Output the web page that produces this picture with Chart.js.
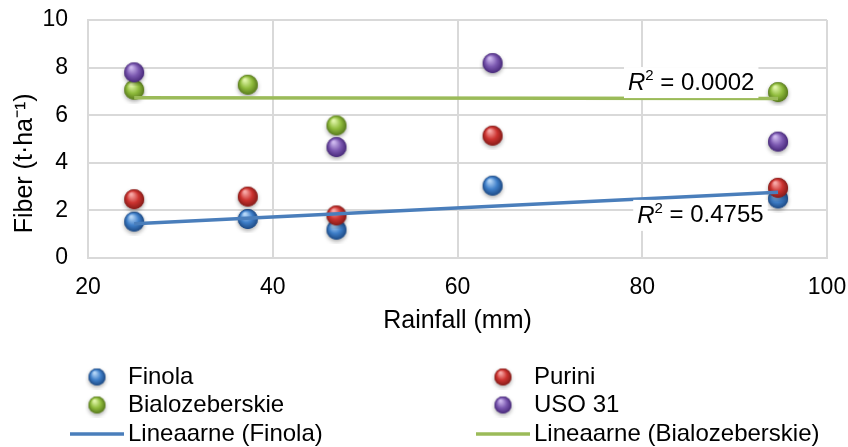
<!DOCTYPE html>
<html>
<head>
<meta charset="utf-8">
<script src="https://cdn.jsdelivr.net/npm/chart.js@4.4.1/dist/chart.umd.js"></script>
<style>
  html, body { margin: 0; padding: 0; background: #fff; }
  #wrap { width: 848px; height: 447px; position: relative; }
</style>
</head>
<body>
<div id="wrap"><canvas id="fiberChart" width="848" height="447"></canvas></div>
<script>
const rainfall = [25, 37.3, 46.9, 63.8, 94.7]
const finola = [1.53, 1.64, 1.19, 3.04, 2.5]
const purini = [2.47, 2.58, 1.79, 5.14, 2.95]
const bialozeberskie = [7.07, 7.28, 5.57, null, 6.97]
const uso31 = [7.8, null, 4.66, 8.19, 4.89]
const xTicks = [20, 40, 60, 80, 100]
const yTicks = [0, 2, 4, 6, 8, 10]
const seriesNames = ["Finola", "Purini", "Bialozeberskie", "USO 31"]
const trendNames = ["Lineaarne (Finola)", "Lineaarne (Bialozeberskie)"]
const rSquared = ["0.4755", "0.0002"]

const FONT = "'Liberation Sans', Arial, sans-serif"

function makeBall(base, light, dark, r) {
  const c = document.createElement("canvas")
  const size = 2 * r + 8
  c.width = size
  c.height = size
  const g = c.getContext("2d")
  const cx = size / 2
  const cy = size / 2
  g.save()
  g.shadowColor = "rgba(0,0,0,0.35)"
  g.shadowBlur = 4
  g.shadowOffsetY = 2
  g.beginPath()
  g.arc(cx, cy, r, 0, Math.PI * 2)
  g.fillStyle = dark
  g.fill()
  g.restore()
  const grad = g.createRadialGradient(cx - r * 0.3, cy - r * 0.5, r * 0.1, cx, cy, r)
  grad.addColorStop(0, light)
  grad.addColorStop(0.55, base)
  grad.addColorStop(1, dark)
  g.beginPath()
  g.arc(cx, cy, r, 0, Math.PI * 2)
  g.fillStyle = grad
  g.fill()
  return c
}

const ballColors = [
  ["#3f7fc9", "#b5d6f7", "#1d4a85"],
  ["#cc3330", "#f7a8a6", "#861b18"],
  ["#8fbb3c", "#e0f5a8", "#587a1c"],
  ["#7b58b0", "#cdb8ee", "#48297a"]
]
const bigBalls = ballColors.map((c) => makeBall(c[0], c[1], c[2], 10))
const smallBalls = ballColors.map((c) => makeBall(c[0], c[1], c[2], 8.5))
const trendColors = ["#4a7ebb", "#9bbb59"]

function toPoints(values) {
  return rainfall.map((x, i) => ({ x, y: values[i] }))
}

// least-squares trendline over the points that exist
function linearFit(values) {
  const pts = toPoints(values).filter((p) => p.y !== null)
  const n = pts.length
  const mx = pts.reduce((s, p) => s + p.x, 0) / n
  const my = pts.reduce((s, p) => s + p.y, 0) / n
  let sxy = 0
  let sxx = 0
  pts.forEach((p) => {
    sxy += (p.x - mx) * (p.y - my)
    sxx += (p.x - mx) * (p.x - mx)
  })
  const slope = sxy / sxx
  const xs = pts.map((p) => p.x)
  const x0 = Math.min(...xs)
  const x1 = Math.max(...xs)
  return [
    { x: x0, y: my + slope * (x0 - mx) },
    { x: x1, y: my + slope * (x1 - mx) }
  ]
}

const seriesValues = [finola, purini, bialozeberskie, uso31]

const scatterSets = seriesValues.map((values, i) => ({
  label: seriesNames[i],
  data: toPoints(values),
  pointStyle: bigBalls[i],
  pointRadius: 10,
  showLine: false,
  order: 10 - i
}))

const trendSets = [finola, bialozeberskie].map((values, i) => ({
  label: trendNames[i],
  data: linearFit(values),
  showLine: true,
  borderColor: trendColors[i],
  borderWidth: 3.5,
  pointRadius: 0,
  order: 0
}))

// R² labels anchored in data units
const rLabels = [
  { text: rSquared[0], x: 86.3, y: 1.77 },
  { text: rSquared[1], x: 85.3, y: 7.35 }
]

const overlayPlugin = {
  id: "overlay",
  afterDatasetsDraw(chart) {
    const ctx = chart.ctx
    const xs = chart.scales.x
    const ys = chart.scales.y
    ctx.save()
    ctx.textBaseline = "middle"
    rLabels.forEach((lab) => {
      const cx = xs.getPixelForValue(lab.x)
      const cy = ys.getPixelForValue(lab.y)
      ctx.font = "italic 24px " + FONT
      const wR = ctx.measureText("R").width
      ctx.font = "15px " + FONT
      const w2 = ctx.measureText("2").width
      ctx.font = "24px " + FONT
      const rest = " = " + lab.text
      const wRest = ctx.measureText(rest).width
      const total = wR + w2 + wRest
      let x = cx - total / 2
      ctx.fillStyle = "#fff"
      ctx.fillRect(x - 4, cy - 16, total + 8, 31)
      ctx.fillStyle = "#000"
      ctx.textAlign = "left"
      ctx.font = "italic 24px " + FONT
      ctx.fillText("R", x, cy)
      x += wR
      ctx.font = "15px " + FONT
      ctx.fillText("2", x, cy - 7)
      x += w2
      ctx.font = "24px " + FONT
      ctx.fillText(rest, x, cy)
    })
    ctx.restore()
  },
  afterDraw(chart) {
    const ctx = chart.ctx
    ctx.save()
    ctx.textBaseline = "middle"
    ctx.textAlign = "left"
    ctx.font = "24px " + FONT
    ctx.fillStyle = "#000"
    const cols = [97, 503]
    const rows = [377, 405, 434]
    const items = [
      { ball: 0, text: seriesNames[0] },
      { ball: 1, text: seriesNames[1] },
      { ball: 2, text: seriesNames[2] },
      { ball: 3, text: seriesNames[3] },
      { line: 0, text: trendNames[0] },
      { line: 1, text: trendNames[1] }
    ]
    items.forEach((it, i) => {
      const cx = cols[i % 2]
      const cy = rows[Math.floor(i / 2)]
      if (it.ball !== undefined) {
        const img = smallBalls[it.ball]
        ctx.drawImage(img, cx - img.width / 2, cy - img.height / 2)
      } else {
        ctx.strokeStyle = trendColors[it.line]
        ctx.lineWidth = 3.5
        ctx.beginPath()
        ctx.moveTo(cx - 27, cy)
        ctx.lineTo(cx + 27, cy)
        ctx.stroke()
      }
      ctx.fillText(it.text, cx + 31, cy)
    })
    ctx.restore()
  }
}

new Chart(document.getElementById("fiberChart"), {
  type: "scatter",
  data: { datasets: [...trendSets, ...scatterSets] },
  options: {
    responsive: false,
    animation: false,
    layout: { padding: { top: 20, right: 21, bottom: 111, left: 0 } },
    plugins: {
      legend: { display: false },
      tooltip: { enabled: false }
    },
    scales: {
      x: {
        type: "linear",
        min: xTicks[0],
        max: xTicks[xTicks.length - 1],
        afterBuildTicks: (scale) => { scale.ticks = xTicks.map((v) => ({ value: v })) },
        afterFit: (scale) => {
          scale.height = 78
          scale.paddingLeft = 0
          scale.paddingRight = 0
        },
        grid: { color: "#d9d9d9", lineWidth: 2, drawTicks: false },
        border: { color: "#d9d9d9", width: 2 },
        ticks: { color: "#000", font: { family: FONT, size: 23 }, padding: 16 },
        title: {
          display: true,
          text: "Rainfall (mm)",
          color: "#000",
          font: { family: FONT, size: 25 },
          padding: { top: 0, bottom: 0 }
        }
      },
      y: {
        type: "linear",
        min: yTicks[0],
        max: yTicks[yTicks.length - 1],
        afterBuildTicks: (scale) => { scale.ticks = yTicks.map((v) => ({ value: v })) },
        afterFit: (scale) => {
          scale.width = 88
          scale.paddingTop = 0
          scale.paddingBottom = 0
        },
        grid: { color: "#d9d9d9", lineWidth: 2, drawTicks: false },
        border: { color: "#d9d9d9", width: 2 },
        ticks: { color: "#000", font: { family: FONT, size: 23 }, padding: 20 },
        title: {
          display: true,
          text: "Fiber (t·ha⁻¹)       ",
          color: "#000",
          font: { family: FONT, size: 25 },
          padding: { top: 10, bottom: 0 }
        }
      }
    }
  },
  plugins: [overlayPlugin]
})
</script>
</body>
</html>
